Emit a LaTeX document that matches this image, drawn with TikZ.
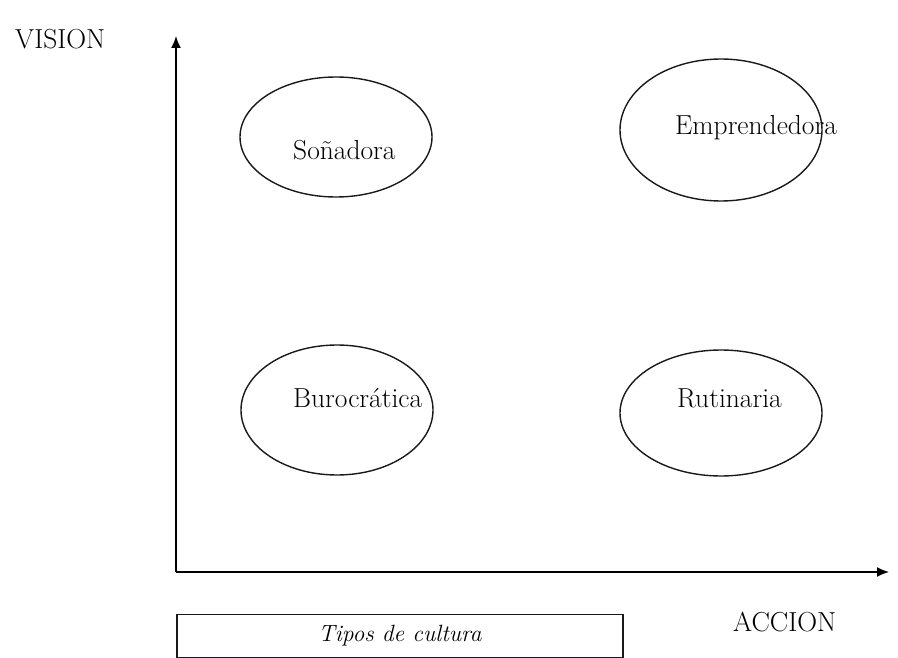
\documentclass[tikz,border=0pt]{standalone}
\usetikzlibrary{shapes.geometric,arrows.meta}
\begin{document}
\begin{tikzpicture}[x=1pt,y=-1pt,
  oval/.style={draw=black!90, line width=1.4pt, ellipse, inner sep=0pt},
  lbl/.style={anchor=base west, inner sep=0pt, font=\fontsize{27.5}{32}\selectfont},
  axis/.style={line width=1.6pt, -{Latex[length=12pt,width=10pt]}}]
\useasboundingbox (0,0) rectangle (898,658);
% axes
\coordinate (origin) at (176,572);
\coordinate (ytip) at (176,36);
\coordinate (xtip) at (889,572);
\draw[axis] (origin) -- (ytip);
\draw[axis] (origin) -- (xtip);
% ellipses
\node[oval, minimum width=192pt, minimum height=120pt] (sonadora) at (336,137) {};
\node[oval, minimum width=202pt, minimum height=142pt] (emprend) at (721,130) {};
\node[oval, minimum width=192pt, minimum height=130pt] (buro) at (337,410) {};
\node[oval, minimum width=202pt, minimum height=126pt] (rutina) at (721,413) {};
% labels
\node[lbl] (tsonadora) at (293,160) {Soñadora};
\node[lbl] (temprend) at (675,135) {Emprendedora};
\node[lbl] (tburo) at (293,407) {Burocrática};
\node[lbl] (trutina) at (677,407) {Rutinaria};
\node[lbl] (vision) at (15,49) {VISION};
\node[lbl] (accion) at (733,631) {ACCION};
% legend box
\node[draw=black!90, line width=1.1pt, minimum width=446pt, minimum height=43pt, inner sep=0pt,
  font=\itshape\fontsize{23.5}{27}\selectfont] (tipos) at (400,636) {Tipos de cultura};
\end{tikzpicture}
\end{document}
